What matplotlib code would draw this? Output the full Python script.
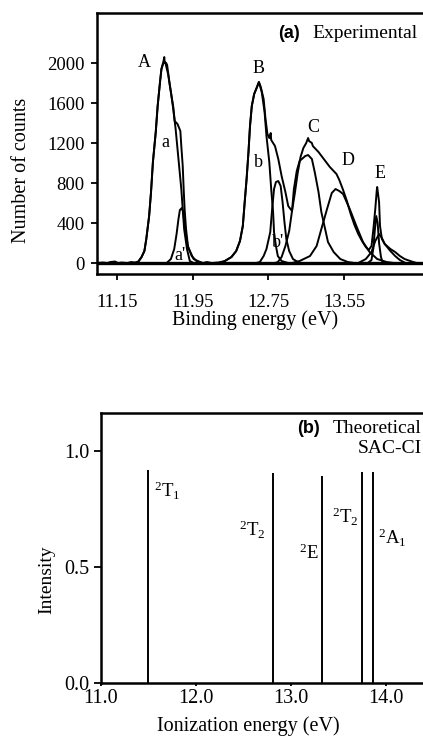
import matplotlib
matplotlib.use('Agg')
import matplotlib.pyplot as plt

plt.rcParams['font.family'] = ['Liberation Serif', 'DejaVu Serif']
plt.rcParams['mathtext.fontset'] = 'custom'
plt.rcParams['mathtext.rm'] = 'Liberation Serif'
plt.rcParams['mathtext.it'] = 'Liberation Serif:italic'

# (a) experimental spectrum (eV, counts)
env_ev = [10.94, 11.0, 11.05, 11.08, 11.13, 11.16, 11.2, 11.26, 11.30, 11.34,
          11.375, 11.41, 11.44, 11.46, 11.49, 11.51, 11.53, 11.56, 11.58, 11.605,
          11.62, 11.64, 11.65, 11.655, 11.67, 11.68, 11.71, 11.745, 11.76, 11.79,
          11.82, 11.83, 11.845, 11.855, 11.865, 11.88, 11.90, 11.94, 11.99, 12.06,
          12.10, 12.15, 12.22, 12.29, 12.36, 12.41, 12.45, 12.48, 12.50, 12.52,
          12.54, 12.556, 12.575, 12.60, 12.63, 12.65, 12.67, 12.70, 12.72, 12.74,
          12.76, 12.775, 12.78, 12.82, 12.855, 12.89, 12.93, 12.96, 13.00, 13.03,
          13.06, 13.09, 13.12, 13.15, 13.17, 13.18, 13.21, 13.22, 13.24, 13.28,
          13.32, 13.36, 13.40, 13.44, 13.47, 13.50, 13.54, 13.58, 13.62, 13.66,
          13.70, 13.74, 13.78, 13.81, 13.84, 13.86, 13.88, 13.895, 13.90, 13.92,
          13.93, 13.95, 13.98, 14.04, 14.09, 14.14, 14.19, 14.28, 14.32, 14.44]
env_counts = [0, 5, 0, 10, 15, 0, 5, 0, 10, 5,
              15, 60, 120, 240, 470, 710, 1010, 1310, 1570, 1810,
              1940, 2010, 2060, 2000, 2000, 1980, 1770, 1560, 1420, 1390,
              1320, 1170, 970, 740, 540, 340, 170, 70, 20, 0,
              10, 0, 5, 20, 60, 120, 220, 370, 610, 840,
              1110, 1370, 1570, 1690, 1760, 1810, 1760, 1640, 1440, 1290,
              1250, 1300, 1230, 1170, 1040, 870, 710, 570, 520, 700,
              900, 1060, 1150, 1200, 1250, 1220, 1200, 1170, 1150, 1110,
              1060, 1010, 960, 920, 890, 830, 730, 620, 490, 380,
              290, 220, 160, 130, 170, 340, 540, 720, 760, 610,
              370, 240, 190, 140, 110, 70, 40, 10, 0, 0]

# fitted components
a_ev = [11.34, 11.375, 11.41, 11.44, 11.46, 11.49, 11.51, 11.53, 11.56, 11.58,
        11.605, 11.62, 11.64, 11.66, 11.69, 11.72, 11.745, 11.77, 11.79, 11.81,
        11.83, 11.845, 11.86, 11.89, 11.92, 11.96]
a_counts = [0, 10, 60, 120, 240, 470, 710, 1010, 1310, 1570,
            1810, 1940, 2000, 2010, 1890, 1710, 1540, 1340, 1140, 940,
            740, 540, 340, 140, 20, 0]

a2_ev = [11.675, 11.72, 11.755, 11.78, 11.80, 11.815, 11.835, 11.85, 11.87,
         11.90, 11.96, 12.05]
a2_counts = [0, 40, 140, 290, 440, 530, 550, 510, 340, 160, 40, 0]

b_ev = [12.25, 12.29, 12.36, 12.41, 12.45, 12.48, 12.50, 12.52, 12.54, 12.556,
        12.575, 12.60, 12.63, 12.65, 12.68, 12.71, 12.73, 12.76, 12.78, 12.80,
        12.81, 12.83, 12.85, 12.89, 12.96]
b_counts = [0, 20, 60, 120, 220, 370, 610, 840, 1110, 1370,
            1570, 1690, 1760, 1810, 1710, 1510, 1270, 1010, 740, 510,
            310, 170, 70, 20, 0]

b2_ev = [12.62, 12.66, 12.70, 12.73, 12.77, 12.79, 12.81, 12.83, 12.855, 12.88,
         12.90, 12.92, 12.94, 12.97, 13.01, 13.08]
b2_counts = [0, 10, 70, 140, 310, 540, 740, 810, 820, 770,
             610, 410, 240, 120, 40, 0]

c_ev = [12.82, 12.85, 12.89, 12.93, 12.97, 13.00, 13.02, 13.05, 13.08, 13.14,
        13.17, 13.21, 13.24, 13.28, 13.31, 13.35, 13.38, 13.44, 13.51, 13.59, 13.66]
c_counts = [0, 10, 60, 170, 320, 520, 740, 920, 1020, 1070,
            1080, 1040, 910, 710, 510, 340, 210, 110, 40, 10, 0]

d_ev = [13.0, 13.08, 13.19, 13.26, 13.31, 13.37, 13.42, 13.46, 13.50, 13.54,
        13.61, 13.68, 13.75, 13.82, 13.90, 14.0, 14.08]
d_counts = [0, 20, 70, 170, 340, 540, 700, 740, 720, 690,
            540, 370, 210, 110, 40, 10, 0]

e1_ev = [13.80, 13.84, 13.86, 13.875, 13.89, 13.905, 13.92, 13.94, 13.96]
e1_counts = [0, 30, 150, 330, 470, 400, 200, 60, 0]

e2_ev = [13.70, 13.78, 13.84, 13.88, 13.92, 13.95, 13.98, 14.04, 14.09, 14.14, 14.20]
e2_counts = [0, 40, 110, 220, 290, 250, 190, 120, 70, 30, 0]

peak_labels = ['A', 'B', 'C', 'D', 'E', 'a', 'b', "a'", "b'"]
peak_label_ev = [11.435, 12.65, 13.22, 13.59, 13.93, 11.66, 12.65, 11.82, 12.85]
peak_label_counts = [2010, 1950, 1360, 1030, 900, 1210, 1010, 80, 210]

exp_xticks = [11.15, 11.95, 12.75, 13.55]
exp_yticks = [0, 400, 800, 1200, 1600, 2000]

# (b) SAC-CI sticks
theo_ev = [11.50, 12.81, 13.33, 13.75, 13.87]
theo_int = [0.92, 0.905, 0.893, 0.91, 0.91]
state_labels = [r'${}^{2}\mathrm{T}_{1}$', r'${}^{2}\mathrm{T}_{2}$', r'${}^{2}\mathrm{E}$',
                r'${}^{2}\mathrm{T}_{2}$', r'${}^{2}\mathrm{A}_{1}$']
state_label_x = [11.56, 12.74, 13.29, 13.71, 13.92]
state_label_y = [0.83, 0.66, 0.56, 0.715, 0.625]
state_label_ha = ['left', 'right', 'right', 'right', 'left']

theo_xticks = [11.0, 12.0, 13.0, 14.0]
theo_yticks = [0.0, 0.5, 1.0]

fig = plt.figure(figsize=(4.23, 7.40), dpi=100)

# ---- top panel ----
ax1 = fig.add_axes([0.2293, 0.6297, 0.7825, 0.3527])
lw = 1.4
ax1.plot(env_ev, env_counts, color='black', lw=lw)
for xs, ys in [(a_ev, a_counts), (a2_ev, a2_counts), (b_ev, b_counts),
               (b2_ev, b2_counts), (c_ev, c_counts), (d_ev, d_counts),
               (e1_ev, e1_counts), (e2_ev, e2_counts)]:
    ax1.plot(xs, ys, color='black', lw=lw)
ax1.axhline(0, color='black', lw=2.4)
ax1.set_xlim(10.939, 14.437)
ax1.set_ylim(-110, 2500)
ax1.set_xticks(exp_xticks)
ax1.set_xticklabels([f'{t:.2f}' for t in exp_xticks])
ax1.set_yticks(exp_yticks)
ax1.tick_params(axis='y', direction='out', length=4, width=1.3, pad=5, labelsize=13.5)
ax1.tick_params(axis='x', direction='out', length=4.5, width=1.3, pad=10, labelsize=13.5)
for s in ['left', 'top', 'bottom']:
    ax1.spines[s].set_linewidth(1.8)
ax1.spines['right'].set_visible(False)

for lab, x, y in zip(peak_labels, peak_label_ev, peak_label_counts):
    ax1.text(x, y, lab, ha='center', va='center', fontsize=13)

ax1.text(0.547, 0.923, '(a)', transform=ax1.transAxes, ha='left', va='center',
         fontsize=13, fontweight='bold', family='Liberation Sans')
ax1.text(0.650, 0.923, 'Experimental', transform=ax1.transAxes, ha='left',
         va='center', fontsize=14)

ax1.set_xlabel('Binding energy (eV)', fontsize=14.5)
ax1.xaxis.set_label_coords(0.477, -0.176)
ax1.xaxis.label.set_va('center')
ax1.set_ylabel('Number of counts', fontsize=14.5)
ax1.yaxis.set_label_coords(-0.227, 0.398)
ax1.yaxis.label.set_va('center')

# ---- bottom panel ----
ax2 = fig.add_axes([0.238, 0.0770, 0.7738, 0.3649])
ax2.vlines(theo_ev, 0, theo_int, color='black', lw=1.4)
ax2.set_xlim(11.0, 14.445)
ax2.set_ylim(0, 1.164)
ax2.set_xticks(theo_xticks)
ax2.set_xticklabels([f'{t:.1f}' for t in theo_xticks])
ax2.set_yticks(theo_yticks)
ax2.set_yticklabels([f'{t:.1f}' for t in theo_yticks])
ax2.tick_params(axis='y', direction='out', length=5, width=1.3, pad=3, labelsize=14.5)
ax2.tick_params(axis='x', direction='out', length=2.5, width=1.3, pad=2, labelsize=14.5)
for s in ['left', 'top', 'bottom']:
    ax2.spines[s].set_linewidth(1.8)
ax2.spines['right'].set_visible(False)

for lab, x, y, ha in zip(state_labels, state_label_x, state_label_y, state_label_ha):
    ax2.text(x, y, lab, ha=ha, va='center', fontsize=13.5)

ax2.text(0.600, 0.941, '(b)', transform=ax2.transAxes, ha='left', va='center',
         fontsize=13, fontweight='bold', family='Liberation Sans')
ax2.text(0.710, 0.941, 'Theoretical', transform=ax2.transAxes, ha='left',
         va='center', fontsize=14)
ax2.text(0.786, 0.870, 'SAC-CI', transform=ax2.transAxes, ha='left',
         va='center', fontsize=14)

ax2.set_xlabel('Ionization energy (eV)', fontsize=14.5)
ax2.xaxis.set_label_coords(0.45, -0.159)
ax2.xaxis.label.set_va('center')
ax2.set_ylabel('Intensity', fontsize=14)
ax2.yaxis.set_label_coords(-0.164, 0.381)
ax2.yaxis.label.set_va('center')

fig.savefig('out.png', dpi=100)
